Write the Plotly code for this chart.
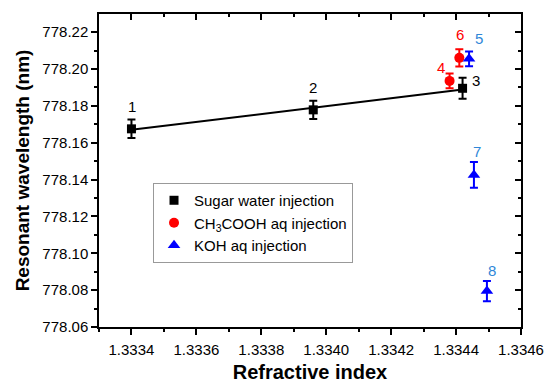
import numpy as np
import plotly.graph_objects as go

# Data
sugar_x = [1.3334, 1.33396, 1.33442]
sugar_y = [778.1675, 778.1778, 778.1895]
sugar_err = [0.0050, 0.0050, 0.0057]
sugar_labels = ["1", "2", "3"]

acid_x = [1.33438, 1.33441]
acid_y = [778.1935, 778.2060]
acid_err = [0.0040, 0.0047]
acid_labels = ["4", "6"]

koh_x = [1.33444, 1.334455, 1.334495]
koh_y = [778.2055, 778.1425, 778.0795]
koh_err = [0.0040, 0.0070, 0.0055]
koh_labels = ["5", "7", "8"]

FONT = "Liberation Sans, Arial, sans-serif"
RED = "#ff0000"
BLUE = "#0000ff"
LBLUE = "#2f87d8"

fig = go.Figure()

# linear fit of sugar water points
coef = np.polyfit(sugar_x, sugar_y, 1)
fx = np.array([min(sugar_x), max(sugar_x)])
fig.add_trace(go.Scatter(x=fx, y=np.polyval(coef, fx), mode="lines",
                         line=dict(color="black", width=2), showlegend=False,
                         hoverinfo="skip"))

def add_series(x, y, err, color, symbol, size, name):
    fig.add_trace(go.Scatter(
        x=x, y=y, mode="markers", name=name,
        marker=dict(color=color, symbol=symbol, size=size, line=dict(width=0)),
        error_y=dict(type="data", array=err, visible=True, color=color,
                     thickness=2, width=4),
    ))

add_series(sugar_x, sugar_y, sugar_err, "black", "square", 9, "Sugar water injection")
add_series(acid_x, acid_y, acid_err, RED, "circle", 10, "CH<sub>3</sub>COOH aq injection")
add_series(koh_x, koh_y, koh_err, BLUE, "triangle-up", 11, "KOH aq injection")

# invisible trace for the mirrored axes
fig.add_trace(go.Scatter(x=[1.334], y=[778.1], xaxis="x2", yaxis="y2",
                         mode="markers", marker=dict(opacity=0),
                         showlegend=False, hoverinfo="skip"))

# point labels
shifts = {"1": (1, 22), "2": (0, 22), "3": (13, 8),
          "4": (-9, 13), "6": (1, 23),
          "5": (10, 20), "7": (3, 23), "8": (5, 21)}
def add_labels(xs, ys, labels, color):
    for x, y, t in zip(xs, ys, labels):
        dx, dy = shifts[t]
        fig.add_annotation(x=x, y=y, text=t, showarrow=False, xshift=dx, yshift=dy,
                           font=dict(family=FONT, size=15, color=color))
add_labels(sugar_x, sugar_y, sugar_labels, "black")
add_labels(acid_x, acid_y, acid_labels, RED)
add_labels(koh_x, koh_y, koh_labels, LBLUE)

xrange = [1.33330, 1.33460]
yrange = [778.06, 778.2298]

axis_common = dict(showline=True, linecolor="black", linewidth=1.5,
                   showgrid=False, zeroline=False, ticklen=6, tickwidth=1.5,
                   tickcolor="black", automargin=False)

fig.update_layout(
    width=546, height=383,
    margin=dict(l=99, r=25, t=14, b=56),
    paper_bgcolor="white", plot_bgcolor="white",
    font=dict(family=FONT, color="black"),
    xaxis=dict(range=xrange, ticks="outside", dtick=0.0002, tick0=1.3334,
               tickformat=".4f", ticklabelstandoff=2,
               minor=dict(dtick=0.0001, ticklen=3, tickwidth=1.5, ticks="outside",
                          tickcolor="black"),
               tickfont=dict(size=15, family=FONT),
               title=dict(text="<b>Refractive index</b>", font=dict(size=20, family=FONT),
                          standoff=8),
               **axis_common),
    yaxis=dict(range=yrange, ticks="outside", dtick=0.02, tick0=778.06,
               tickformat=".2f",
               minor=dict(dtick=0.01, ticklen=3, tickwidth=1.5, ticks="outside",
                          tickcolor="black"),
               tickfont=dict(size=15, family=FONT),
               title=dict(text="<b>Resonant wavelength (nm)</b>", font=dict(size=19, family=FONT),
                          standoff=8),
               **axis_common),
    xaxis2=dict(range=xrange, overlaying="x", side="top", anchor="y2",
                ticks="inside", dtick=0.0002, tick0=1.3334, showticklabels=False,
                minor=dict(dtick=0.0001, ticklen=3, tickwidth=1.5, ticks="inside",
                           tickcolor="black"),
                **axis_common),
    yaxis2=dict(range=yrange, overlaying="y", side="right", anchor="x2",
                ticks="inside", dtick=0.02, tick0=778.06, showticklabels=False,
                minor=dict(dtick=0.01, ticklen=3, tickwidth=1.5, ticks="inside",
                           tickcolor="black"),
                **axis_common),
    legend=dict(x=0.128, y=0.46, xanchor="left", yanchor="top",
                bordercolor="#999999", borderwidth=1, bgcolor="white",
                font=dict(size=15, family=FONT), itemwidth=30,
                tracegroupgap=4),
    showlegend=True,
)

fig.write_html("out.html")
